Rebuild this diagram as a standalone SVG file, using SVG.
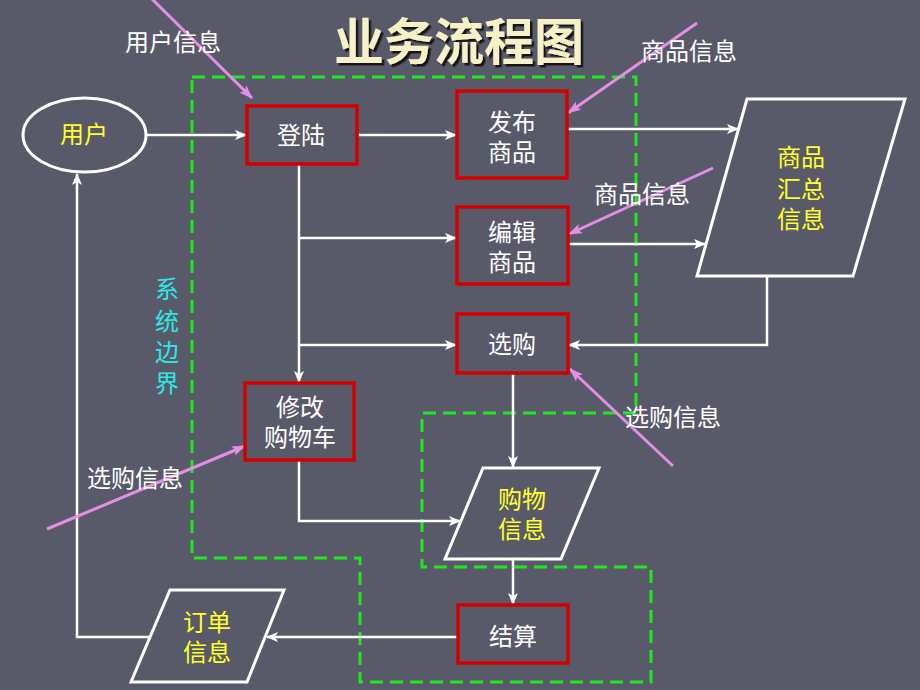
<svg xmlns="http://www.w3.org/2000/svg" width="920" height="690" viewBox="0 0 920 690">
<defs>
<marker id="aw" markerUnits="userSpaceOnUse" markerWidth="12" markerHeight="10" refX="11" refY="5" orient="auto"><path d="M0,0 L12,5 L0,10 L3,5 Z" fill="#ffffff"/></marker>
<marker id="ap" markerUnits="userSpaceOnUse" markerWidth="14" markerHeight="10" refX="13" refY="5" orient="auto"><path d="M0,0 L14,5 L0,10 L3,5 Z" fill="#e58ee5"/></marker>
<filter id="sh" x="-10%" y="-10%" width="130%" height="140%"><feDropShadow dx="2.5" dy="2.5" stdDeviation="0.6" flood-color="#111" flood-opacity="0.9"/></filter>
</defs>
<style>
text{font-family:"Noto Sans CJK SC","Liberation Sans",sans-serif;font-size:24px;text-anchor:middle}
.w{fill:#ffffff}
.y{fill:#ffff2e}
.c{fill:#2ee8e8}
.proc{fill:none;stroke:#d40000;stroke-width:3.5}
.io{fill:none;stroke:#ffffff;stroke-width:3}
.ln{fill:none;stroke:#ffffff;stroke-width:2.5}
.pk{fill:none;stroke:#e58ee5;stroke-width:3}
.bd{fill:none;stroke:#1ee81e;stroke-width:3;stroke-dasharray:13 7}
</style>
<rect x="0" y="0" width="920" height="690" fill="#595a69"/>
<text x="459" y="60" style="font-size:50px;font-weight:bold;fill:#f6f1c6" filter="url(#sh)">业务流程图</text>
<g id="boundary">
<path class="bd" d="M192,77 H636 V413 H422 V567 H651 V682 H360 V558 H192 Z"/>
<text class="c" x="167" y="298">系</text>
<text class="c" x="167" y="330">统</text>
<text class="c" x="167" y="361">边</text>
<text class="c" x="167" y="392">界</text>
</g>
<g id="connectors">
<path class="ln" d="M146,135 H246" marker-end="url(#aw)"/>
<path class="ln" d="M357,135 H456" marker-end="url(#aw)"/>
<path class="ln" d="M567,129 H738" marker-end="url(#aw)"/>
<path class="ln" d="M299,164 V382" marker-end="url(#aw)"/>
<path class="ln" d="M299,238 H456" marker-end="url(#aw)"/>
<path class="ln" d="M299,345 H456" marker-end="url(#aw)"/>
<path class="ln" d="M568,244 H705" marker-end="url(#aw)"/>
<path class="ln" d="M767,276 V345 H569" marker-end="url(#aw)"/>
<path class="ln" d="M513,373 V467" marker-end="url(#aw)"/>
<path class="ln" d="M299,460 V521 H460" marker-end="url(#aw)"/>
<path class="ln" d="M513,559 V604" marker-end="url(#aw)"/>
<path class="ln" d="M458,637 H267" marker-end="url(#aw)"/>
<path class="ln" d="M150,637 H77 V174" marker-end="url(#aw)"/>
</g>
<g id="inputs">
<path class="pk" d="M150,-3 L252,98" marker-end="url(#ap)"/>
<path class="pk" d="M697,23 L568,113" marker-end="url(#ap)"/>
<path class="pk" d="M713,168 L569,234" marker-end="url(#ap)"/>
<path class="pk" d="M673,466 L570,369" marker-end="url(#ap)"/>
<path class="pk" d="M47,529 L245,446" marker-end="url(#ap)"/>
<text class="w" x="173" y="51">用户信息</text>
<text class="w" x="689" y="60">商品信息</text>
<text class="w" x="642" y="203">商品信息</text>
<text class="w" x="673" y="426">选购信息</text>
<text class="w" x="135" y="487">选购信息</text>
</g>
<g id="user">
<ellipse class="io" cx="84.5" cy="135" rx="61.5" ry="37"/>
<text class="y" x="84" y="143">用户</text>
</g>
<g id="login">
<rect class="proc" x="247" y="106" width="110" height="58"/>
<text class="w" x="301" y="144">登陆</text>
</g>
<g id="publish">
<rect class="proc" x="457" y="91" width="110" height="87"/>
<text class="w" x="512" y="131">发布</text>
<text class="w" x="512" y="161">商品</text>
</g>
<g id="edit">
<rect class="proc" x="457" y="207" width="111" height="77"/>
<text class="w" x="512" y="241">编辑</text>
<text class="w" x="512" y="271">商品</text>
</g>
<g id="select">
<rect class="proc" x="457" y="314" width="111" height="59"/>
<text class="w" x="512" y="353">选购</text>
</g>
<g id="cart">
<rect class="proc" x="245" y="383" width="109" height="77"/>
<text class="w" x="300" y="416">修改</text>
<text class="w" x="300" y="446">购物车</text>
</g>
<g id="checkout">
<rect class="proc" x="458" y="605" width="110" height="58"/>
<text class="w" x="513" y="645">结算</text>
</g>
<g id="goods-info">
<polygon class="io" points="747,99 905,99 853,276 697,276"/>
<text class="y" x="801" y="166">商品</text>
<text class="y" x="801" y="198">汇总</text>
<text class="y" x="801" y="228">信息</text>
</g>
<g id="shop-info">
<polygon class="io" points="483,468 599,468 561,559 445,559"/>
<text class="y" x="522" y="508">购物</text>
<text class="y" x="522" y="538">信息</text>
</g>
<g id="order-info">
<polygon class="io" points="170,590 284,590 247,682 131,682"/>
<text class="y" x="207" y="631">订单</text>
<text class="y" x="207" y="661">信息</text>
</g>
</svg>
